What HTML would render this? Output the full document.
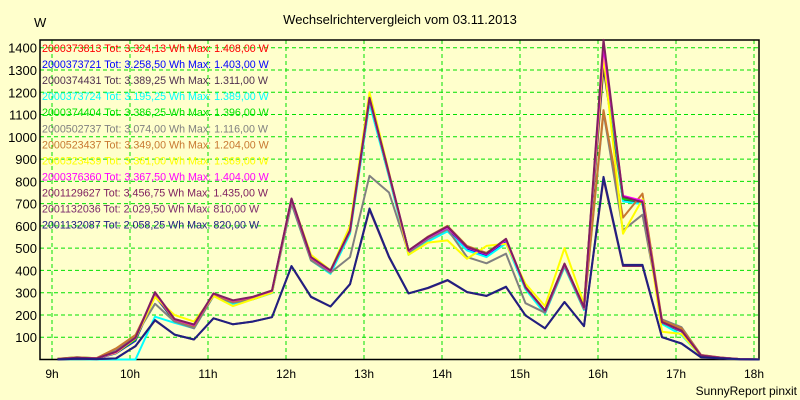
<!DOCTYPE html>
<html><head><meta charset="utf-8"><style>
body{margin:0;background:#ffffcc;}
svg{display:block;font-family:"Liberation Sans",sans-serif;}
</style></head><body>
<svg id="chart" width="800" height="400" viewBox="0 0 800 400">
<rect x="0" y="0" width="800" height="400" fill="#ffffcc"/>
<text x="400" y="24" text-anchor="middle" font-size="13" fill="#000">Wechselrichtervergleich vom 03.11.2013</text>
<text x="34" y="27" font-size="13" fill="#000">W</text>
<text x="797" y="395" text-anchor="end" font-size="12" fill="#000">SunnyReport pinxit</text>
<g id="grid"></g><g id="axes"></g><g id="series"></g><g id="legend"></g>
</svg>
<script>
const hourTicks=[9,10,11,12,13,14,15,16,17,18];
const yTicks=[100,200,300,400,500,600,700,800,900,1000,1100,1200,1300,1400];
const startHour=9.07, stepHour=0.25;
const sRed=[2,8,5,33,95,295,178,152,292,262,278,305,715,455,395,575,1165,830,485,545,590,500,470,535,322,218,428,232,1408,725,705,165,128,17,8,2,0];
const sBlue=[2,7,4,28,85,285,172,148,290,258,275,303,712,452,393,572,1160,828,482,542,588,498,468,532,320,215,425,230,1403,720,703,163,126,16,7,2,0];
const sDark=[2,7,5,30,90,290,175,150,292,260,278,305,718,455,398,575,1170,830,488,548,592,502,472,537,322,218,428,232,1311,715,700,165,128,17,8,2,0];
const sCyan=[0,2,0,0,0,192,165,140,285,250,270,298,700,445,385,565,1150,820,470,530,575,490,460,522,315,205,415,222,1389,710,698,160,110,15,6,1,0];
const sGreen=[3,10,6,30,90,290,175,150,292,260,278,305,718,455,398,575,1170,830,488,550,595,505,478,540,322,218,428,232,1396,722,710,165,128,17,8,2,0];
const sGray=[2,8,5,45,105,250,170,140,285,255,270,300,700,445,390,460,825,750,480,540,585,460,432,475,253,210,420,225,1110,580,650,180,145,20,9,2,0];
const sBrown=[3,10,6,50,110,290,178,150,292,260,278,305,718,455,398,575,1170,830,488,552,600,510,478,540,325,220,430,232,1120,637,745,175,140,20,9,2,0];
const sYellow=[2,8,5,30,95,280,200,170,285,240,270,300,720,470,400,600,1200,840,470,525,535,452,510,520,340,240,500,250,1360,565,720,125,115,15,7,2,0];
const sMagenta=[2,8,5,33,97,300,180,155,296,264,280,308,720,458,398,578,1172,833,488,548,593,503,473,538,323,219,429,233,1404,735,712,166,129,18,8,2,0];
const sPurple=[2,8,5,35,98,302,182,157,297,266,281,310,723,460,400,580,1175,835,490,550,597,505,475,542,325,220,430,235,1435,730,707,168,130,18,8,2,0];
const sPurple2=[0,3,2,5,60,175,112,90,185,158,170,190,418,280,238,338,672,460,297,320,355,302,285,325,198,140,258,150,810,420,420,100,72,10,5,1,0];
const sNavy=[0,3,2,5,60,177,112,90,185,158,170,190,420,282,238,338,678,462,297,322,357,303,286,327,198,140,258,150,820,425,425,100,72,10,5,1,0];
const seriesNames=["2000373813","2000373721","2000374431","2000373724","2000374404","2000502737","2000523437","2000523439","2000376360","2001129627","2001132036","2001132087"];
const seriesTot=["3.324,13","3.258,50","3.389,25","3.195,25","3.386,25","3.074,00","3.349,00","3.361,00","3.367,50","3.456,75","2.029,50","2.058,25"];
const seriesMax=["1.408,00","1.403,00","1.311,00","1.389,00","1.396,00","1.116,00","1.204,00","1.369,00","1.404,00","1.435,00","810,00","820,00"];
const seriesData=[sRed,sBlue,sDark,sCyan,sGreen,sGray,sBrown,sYellow,sMagenta,sPurple,sPurple2,sNavy];
const colors=["#ff0000","#0000ff","#503050","#00ffff","#00e000","#808080","#c87830","#ffff00","#ff00ff","#802060","#7a2a6a","#202080"];
const NS="http://www.w3.org/2000/svg";
const X0=40,X1=759,Y0=40,Y1=359.5;
function xs(h){return 52+(h-9)*78.0;}
function ys(v){return Y1-v*0.2227;}
function mk(tag,attrs,parent){const e=document.createElementNS(NS,tag);for(const k in attrs)e.setAttribute(k,attrs[k]);parent.appendChild(e);return e;}
const grid=document.getElementById('grid'),axes=document.getElementById('axes'),ser=document.getElementById('series'),leg=document.getElementById('legend');
yTicks.forEach(v=>{
 const l=mk('line',{x1:X0,x2:X1,y1:ys(v),y2:ys(v),stroke:'#00e000','stroke-dasharray':'4,3','stroke-width':1},grid);
 
 
 const t=mk('text',{x:37,y:ys(v)+5,'text-anchor':'end','font-size':13,fill:'#000'},axes);
 t.textContent=v;
 
 
});
hourTicks.forEach(h=>{
 const l=mk('line',{x1:xs(h),x2:xs(h),y1:Y0,y2:Y1,stroke:'#00e000','stroke-dasharray':'4,3','stroke-width':1},grid);
 
 
 const t=mk('text',{x:xs(h),y:378,'text-anchor':'middle','font-size':12,fill:'#000'},axes);
 t.textContent=h+'h';
 
 
});
const frame=mk('path',{d:`M${X0} ${Y1} L${X0} ${Y0} L${X1} ${Y0} L${X1} ${Y1} Z`,fill:'none',stroke:'#000','stroke-width':1.5},axes);


seriesData.forEach((arr,i)=>{
 const pts=arr.map((v,k)=>xs(startHour+k*stepHour).toFixed(1)+','+ys(v).toFixed(1)).join(' ');
 const p=mk('polyline',{points:pts,fill:'none',stroke:colors[i],'stroke-width':2,'stroke-linejoin':'round'},ser);
 
 
});
seriesNames.forEach((n,i)=>{
 const t=mk('text',{x:42,y:52+i*16.05,'font-size':10.7,fill:colors[i]},leg);
 t.textContent=n+' Tot: '+seriesTot[i]+' Wh Max: '+seriesMax[i]+' W';
 
 
});
</script>
</body></html>
